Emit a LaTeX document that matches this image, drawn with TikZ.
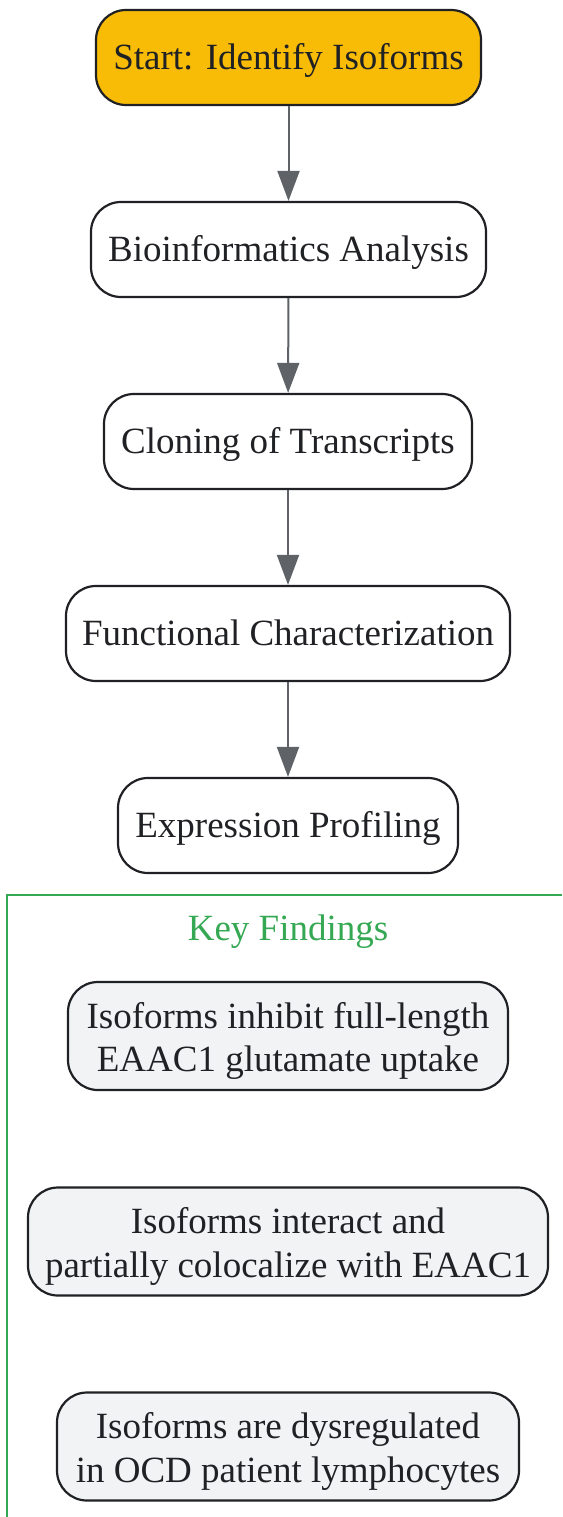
\documentclass[tikz,border=0pt]{standalone}
\usepackage{fontspec}
\setmainfont{Liberation Serif}
\usetikzlibrary{arrows.meta}
\definecolor{startfill}{HTML}{F9BC06}
\definecolor{findfill}{HTML}{F1F3F4}
\definecolor{edgegray}{HTML}{5F6368}
\definecolor{txt}{HTML}{202124}
\definecolor{kgreen}{HTML}{34A853}
\tikzset{
  box/.style={draw=txt, line width=2.2pt, rounded corners=30pt, text=txt, align=center,
    font=\fontsize{37}{43.5}\selectfont, inner sep=0pt, minimum height=95pt},
  oneline/.style={text height=24.4pt, text depth=0pt},
  startbox/.style={box, oneline, fill=startfill},
  stepbox/.style={box, oneline, fill=white},
  findbox/.style={box, fill=findfill, minimum height=108pt, text height=71.4pt, text depth=0pt},
  flow/.style={draw=edgegray, line width=2pt, -{Triangle[width=22pt,length=30pt]}},
}
\begin{document}
\begin{tikzpicture}[x=1pt,y=-1pt]
\useasboundingbox[fill=white] (0,0) rectangle (562,1517);
\node[startbox, minimum width=385pt] (s) at (288.5,57.5) {Start: Identify Isoforms};
\node[stepbox, minimum width=395pt] (b) at (288.5,249.5) {Bioinformatics Analysis};
\node[stepbox, minimum width=368pt] (c) at (288,441.5) {Cloning of Transcripts};
\node[stepbox, minimum width=444pt] (f) at (288,633.5) {Functional Characterization};
\node[stepbox, minimum width=340pt] (e) at (288,825.5) {Expression Profiling};
\draw[flow] (s) -- (b);
\draw[flow] (b) -- (c);
\draw[flow] (c) -- (f);
\draw[flow] (f) -- (e);
\coordinate (kb) at (7,1517);
\coordinate (kc) at (7,895);
\coordinate (kr) at (562,895);
\draw[kgreen, line width=2.4pt] (kb) -- (kc) -- (kr);
\node[text=kgreen, font=\fontsize{37}{44}\selectfont, oneline, inner sep=0pt] (kf) at (288,928) {Key Findings};
\node[findbox, minimum width=440pt] (f1) at (288,1036) {Isoforms inhibit full-length\\EAAC1 glutamate uptake};
\node[findbox, minimum width=520pt] (f2) at (288,1241.5) {Isoforms interact and\\partially colocalize with EAAC1};
\node[findbox, minimum width=462pt] (f3) at (288,1446.5) {Isoforms are dysregulated\\in OCD patient lymphocytes};
\end{tikzpicture}
\end{document}
